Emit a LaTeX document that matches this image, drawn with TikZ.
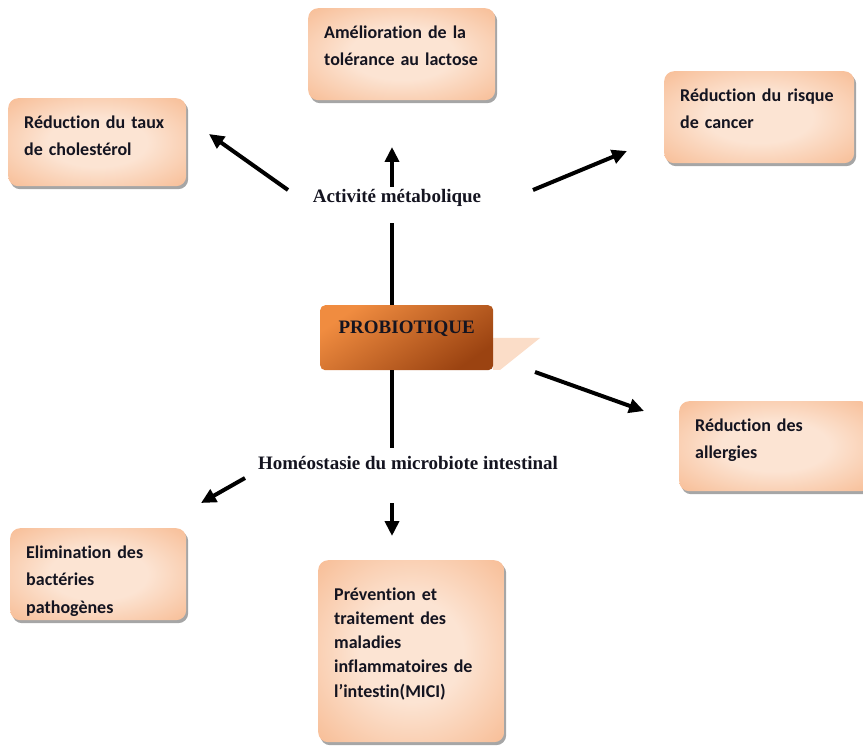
\documentclass[tikz,border=0pt]{standalone}
\usepackage{fontspec}
\setmainfont{Liberation Serif}
\newfontfamily\calib[Ligatures=NoCommon]{Carlito}
\usetikzlibrary{arrows.meta, positioning, shadows}
\definecolor{pbInk}{HTML}{141420}
\definecolor{pbEdge}{HTML}{F4A068}
\definecolor{pbMid}{HTML}{FCE4D3}
\definecolor{pbOrange}{HTML}{F08C40}
\definecolor{pbBrown}{HTML}{9B4311}
\definecolor{pbGhost}{HTML}{FBDDC8}
\pgfdeclareradialshading{peach}{\pgfpoint{0bp}{0bp}}{%
  color(0bp)=(pbMid); color(14bp)=(pbMid); color(52bp)=(pbEdge); color(100bp)=(pbEdge)}
\tikzset{
  effect/.style={
    shading=peach, rounded corners=10pt,
    drop shadow={shadow xshift=2pt, shadow yshift=-3pt, fill=black, opacity=0.35},
    anchor=north west, align=left, inner xsep=16pt, inner ysep=16pt,
    text height=14pt, text=pbInk,
    font=\calib\bfseries\fontsize{18}{27.5}\selectfont
  },
  core/.style={
    rounded corners=5pt, top color=pbOrange, bottom color=pbBrown, shading angle=35,
    anchor=north west, align=center, inner xsep=0pt, inner ysep=10pt,
    text height=18pt, text=pbInk, font=\bfseries\fontsize{19}{23}\selectfont
  },
  theme/.style={font=\bfseries\fontsize{19}{23}\selectfont, text=pbInk, inner sep=2pt},
  stem/.style={line width=4pt, draw=black},
  push/.style={stem, -{Triangle[length=15pt, width=14pt]}},
}

\begin{document}
\begin{tikzpicture}[x=1pt, y=-1pt]
  \useasboundingbox (0,0) rectangle (863,746);
  % centre
  \fill[pbGhost] (493,338) -- (540,338) -- (500,370) -- (493,370) -- cycle;
  \node[core, text width=173pt, text depth=27pt] (probio) at (320,305) {PROBIOTIQUE};
  \node[theme] (act) at (397,198) {Activité métabolique};
  \node[theme] (hom) at (408,463) {Homéostasie du microbiote intestinal};
  % effects
  \node[effect, text width=155pt, text depth=46pt] (tol) at (308,8)
    {Amélioration de la\\tolérance au lactose};
  \node[effect, text width=146pt, text depth=42pt] (chol) at (8,98)
    {Réduction du taux\\de cholestérol};
  \node[effect, text width=158pt, text depth=46pt] (cancer) at (664,71)
    {Réduction du risque\\de cancer};
  \node[effect, text width=160pt, text depth=44pt] (allerg) at (679,401)
    {Réduction des\\allergies};
  \node[effect, text width=144pt, text depth=46pt] (elim) at (10,528)
    {Elimination des\\bactéries\\pathogènes};
  \node[effect, text width=154pt, text height=24pt, text depth=126pt,
    font=\calib\bfseries\fontsize{18}{24.2}\selectfont] (mici) at (318,560)
    {Prévention et\\traitement des\\maladies\\inflammatoires de\\l’intestin(MICI)};
  % arrow ends
  \coordinate (upStem) at (392,223);
  \coordinate (downStem) at (392,448);
  \coordinate (tolTail) at (392,187);   \coordinate (tolTip) at (392,147);
  \coordinate (cholTail) at (288,190);  \coordinate (cholTip) at (209,134);
  \coordinate (cancTail) at (533,190);  \coordinate (cancTip) at (627,151);
  \coordinate (allTail) at (535,372);   \coordinate (allTip) at (644,411);
  \coordinate (elimTail) at (245,478);  \coordinate (elimTip) at (201,503);
  \coordinate (miciTail) at (392,503);  \coordinate (miciTip) at (392,536);
  \draw[stem] (probio.north -| upStem) -- (upStem);
  \draw[stem] (probio.south -| downStem) -- (downStem);
  \draw[push] (tolTail) -- (tolTip);
  \draw[push] (cholTail) -- (cholTip);
  \draw[push] (cancTail) -- (cancTip);
  \draw[push] (allTail) -- (allTip);
  \draw[push] (elimTail) -- (elimTip);
  \draw[push] (miciTail) -- (miciTip);
\end{tikzpicture}
\end{document}
